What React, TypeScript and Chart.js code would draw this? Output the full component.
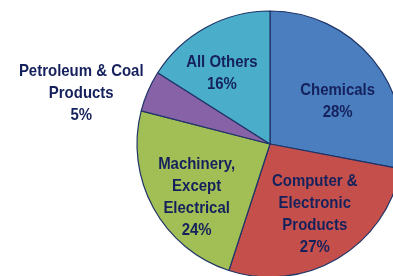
import React, { useEffect, useRef } from "react";
import { Chart, registerables } from "chart.js";

Chart.register(...registerables);

const categories: string[][] = [
  ["Chemicals"],
  ["Computer &", "Electronic", "Products"],
  ["Machinery,", "Except", "Electrical"],
  ["Petroleum & Coal", "Products"],
  ["All Others"],
];
const shares: number[] = [28, 27, 24, 5, 16];

const sliceColors = ["#4A7EBF", "#C5504B", "#A2BF55", "#8762A6", "#4AADCA"];
// label placement: radius fraction and angular tweak (deg) per slice
const labelRadiusFrac = [0.6, 0.625, 0.68, 1.47, 0.64];
const labelAngleAdj = [7.6, -2, -7, -8.3, -5.6];

const labelPlugin = {
  id: "sliceLabels",
  afterDatasetsDraw(chart: any) {
    const ctx = chart.ctx;
    const meta = chart.getDatasetMeta(0);
    const lineH = 22;
    ctx.save();
    ctx.font = "bold 17px 'Liberation Sans', Arial, sans-serif";
    ctx.fillStyle = "#15215C";
    ctx.textAlign = "center";
    ctx.textBaseline = "middle";
    meta.data.forEach((arc: any, i: number) => {
      const p = arc.getProps(["x", "y", "startAngle", "endAngle", "outerRadius"], true);
      const mid = (p.startAngle + p.endAngle) / 2 + (labelAngleAdj[i] * Math.PI) / 180;
      const r = p.outerRadius * labelRadiusFrac[i];
      const cx = p.x + Math.cos(mid) * r;
      const cy = p.y + Math.sin(mid) * r;
      const lines = [...categories[i], `${shares[i]}%`];
      const top = cy - ((lines.length - 1) * lineH) / 2;
      lines.forEach((t, j) => {
        ctx.save();
        ctx.translate(cx, top + j * lineH);
        ctx.scale(0.88, 1);
        ctx.fillText(t, 0, 0);
        ctx.restore();
      });
    });
    ctx.restore();
  },
};

export default function App() {
  const ref = useRef<HTMLCanvasElement | null>(null);
  useEffect(() => {
    document.body.style.margin = "0";
    document.body.style.overflow = "hidden";
    const chart = new Chart(ref.current as HTMLCanvasElement, {
      type: "pie",
      data: {
        labels: categories,
        datasets: [
          {
            data: shares,
            backgroundColor: sliceColors,
            borderColor: "#1F3468",
            borderWidth: 1.2,
          },
        ],
      },
      options: {
        responsive: false,
        animation: false,
        radius: 133,
        layout: { padding: { left: 137, right: 7, top: 11, bottom: 13 } },
        plugins: { legend: { display: false }, tooltip: { enabled: false } },
      } as any,
      plugins: [labelPlugin],
    });
    return () => chart.destroy();
  }, []);
  return (
    <div style={{ position: "fixed", left: 0, top: 0, width: 393, height: 276, overflow: "hidden", background: "#fff" }}>
      <canvas ref={ref} width={410} height={290} style={{ display: "block" }} />
    </div>
  );
}
